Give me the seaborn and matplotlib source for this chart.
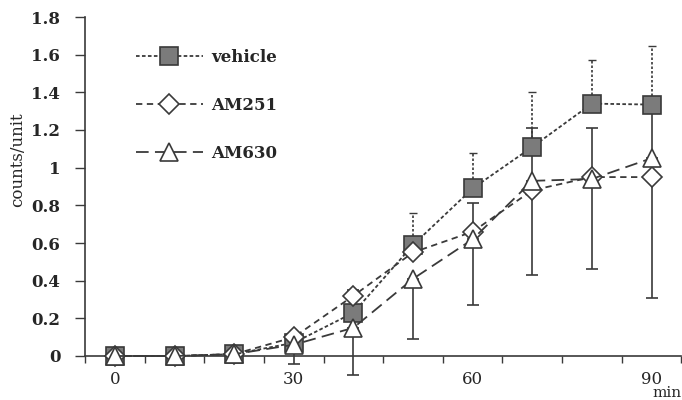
import numpy as np
import pandas as pd
import seaborn as sns
import matplotlib
import matplotlib.pyplot as plt

# time points (min) and mean counts per series
minutes = [0, 10, 20, 30, 40, 50, 60, 70, 80, 90]
vehicle = [0, 0, 0.01, 0.07, 0.23, 0.59, 0.89, 1.11, 1.34, 1.335]
am251 = [0, 0, 0.01, 0.10, 0.32, 0.55, 0.66, 0.88, 0.95, 0.95]
am630 = [0, 0, 0.01, 0.06, 0.15, 0.41, 0.62, 0.93, 0.94, 1.05]

# error bars (one-sided as drawn in the figure)
vehicle_err_up = [0, 0, 0, 0.02, 0.08, 0.17, 0.19, 0.29, 0.23, 0.31]
am251_err_up = [0, 0, 0, 0.02, 0.03, 0.08, 0.15, 0.33, 0.26, 0.34]
am630_err_down = [0, 0, 0.01, 0.10, 0.25, 0.32, 0.35, 0.50, 0.48, 0.74]

y_ticks = [0, 0.2, 0.4, 0.6, 0.8, 1.0, 1.2, 1.4, 1.6, 1.8]
x_ticks = [0, 30, 60, 90]

sns.set_theme()
sns.set_style("ticks")
plt.rcParams['font.family'] = ['DejaVu Serif']

line_col = "#3a3a3a"

fig = plt.figure(figsize=(6.82, 4.0), dpi=100)
ax = fig.add_axes([0.125, 0.11, 0.874, 0.8475])

series = [
    ("vehicle", vehicle, "s", 12.5, (2, 1.3), "#7b7b7b"),
    ("AM251", am251, "D", 10, (3.5, 2.5), "white"),
    ("AM630", am630, "^", 13, (7, 3.5), "white"),
]

# error bars first so markers sit on top
eb = ax.errorbar(minutes, vehicle, yerr=[np.zeros(len(minutes)), vehicle_err_up],
                 fmt='none', ecolor=line_col, elinewidth=1.2, capsize=3, capthick=1.0,
                 clip_on=False, zorder=1)
eb[2][0].set_linestyle((0, (1.5, 1.2)))
ax.errorbar(minutes, am251, yerr=[np.zeros(len(minutes)), am251_err_up],
            fmt='none', ecolor=line_col, elinewidth=1.2, capsize=4, capthick=1.2,
            clip_on=False, zorder=1)
ax.errorbar(minutes, am630, yerr=[am630_err_down, np.zeros(len(minutes))],
            fmt='none', ecolor=line_col, elinewidth=1.2, capsize=4, capthick=1.2,
            clip_on=False, zorder=1)

for name, vals, mk, ms, dash, face in series:
    sns.lineplot(x=minutes, y=vals, ax=ax, color=line_col, linewidth=1.3,
                 marker=mk, markersize=ms, markerfacecolor=face,
                 markeredgecolor=line_col, markeredgewidth=1.2,
                 dashes=dash, label=name, zorder=3, clip_on=False)

ax.set_xlim(-5, 95)
ax.set_ylim(0, 1.8)
ax.set_yticks(y_ticks)
ax.yaxis.set_major_formatter(matplotlib.ticker.FuncFormatter(lambda v, p: "%g" % round(v, 1)))
ax.set_xticks(x_ticks)
ax.set_xticks(np.arange(-5, 96, 10), minor=True)

ax.tick_params(axis='y', which='major', direction='out', length=7, width=1.0,
               pad=11, labelsize=12, color=line_col)
for lbl in ax.get_yticklabels():
    lbl.set_fontweight('bold')
ax.tick_params(axis='x', which='major', length=0, pad=11, labelsize=12)
ax.tick_params(axis='x', which='minor', direction='out', length=5, width=1.0, color=line_col)

for s in ['top', 'right']:
    ax.spines[s].set_visible(False)
for s in ['left', 'bottom']:
    ax.spines[s].set_color(line_col)
    ax.spines[s].set_linewidth(1.2)

ax.set_xlabel("")
ax.set_ylabel("counts/unit", fontsize=12)
ax.yaxis.set_label_coords(-0.10, 0.58)

fig.text(0.999, 0.0, "min", ha='right', va='bottom', fontsize=11)

leg = ax.legend(loc='upper left', bbox_to_anchor=(0.06, 0.95), frameon=False,
                handlelength=4.0, handletextpad=0.5, labelspacing=1.85,
                prop={'weight': 'bold', 'size': 12})

fig.savefig("out.png", dpi=100)
